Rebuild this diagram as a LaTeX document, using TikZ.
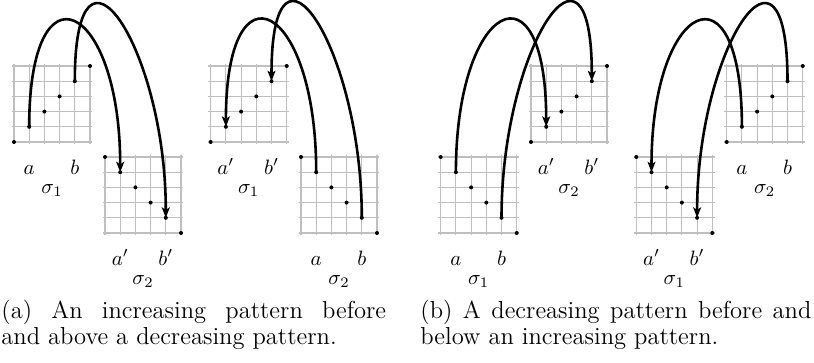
\documentclass[tikz,border=0pt]{standalone}
\usetikzlibrary{arrows.meta}
\tikzset{
  gridline/.style={gray!50, line width=0.5pt},
  permarc/.style={line width=1.25pt, -{Stealth[length=5pt, width=3.8pt, inset=1.2pt]}},
  lab/.style={anchor=base, inner sep=0pt},
  capt/.style={anchor=base west, inner sep=0pt},
}
\newcommand{\permgrid}[4]{%
  \begin{scope}[shift={(#2,#3)}]
    \foreach \k in {0,...,5} {
      \draw[gridline] (\k*15.2, 2.4) -- (\k*15.2, -78.4);
      \draw[gridline] (-2.4, -\k*15.2) -- (78.4, -\k*15.2);
    }
    \foreach \k in {0,...,5} {
      \ifnum#4=1 \coordinate (#1-\k) at (\k*15.2, -\k*15.2);
      \else \coordinate (#1-\k) at (\k*15.2, -76+\k*15.2); \fi
      \fill (#1-\k) circle (2);
    }
  \end{scope}}
\newcommand{\gridlabels}[6]{%
  \node[lab] (#1-la) at (#2+15.2, #3+32) {$#4$};
  \node[lab] (#1-lb) at (#2+60.8, #3+32) {$#5$};
  \node[lab] (#1-ls) at (#2+38, #3+51.5) {$#6$};}
\begin{document}
\begin{tikzpicture}[x=0.4808pt, y=-0.4808pt]
\useasboundingbox (0,0) rectangle (814,362);
% panel (a)
\permgrid{A1}{14}{142}{1}
\permgrid{A2}{105}{233}{0}
\permgrid{A3}{210.7}{142}{1}
\permgrid{A4}{301}{233}{0}
% panel (b)
\permgrid{B1}{440.7}{233}{0}
\permgrid{B2}{531}{142}{1}
\permgrid{B3}{636.3}{233}{0}
\permgrid{B4}{726.7}{142}{1}
% labels
\gridlabels{A1}{14}{142}{a}{b}{\sigma_1}
\gridlabels{A2}{105}{233}{a'}{b'}{\sigma_2}
\gridlabels{A3}{210.7}{142}{a'}{b'}{\sigma_1}
\gridlabels{A4}{301}{233}{a}{b}{\sigma_2}
\gridlabels{B1}{440.7}{233}{a}{b}{\sigma_1}
\gridlabels{B2}{531}{142}{a'}{b'}{\sigma_2}
\gridlabels{B3}{636.3}{233}{a'}{b'}{\sigma_1}
\gridlabels{B4}{726.7}{142}{a}{b}{\sigma_2}
% arcs
\draw[permarc] (A1-1) .. controls +(0,-170) and +(0,-170) .. (A2-1);
\draw[permarc] (A1-4) .. controls +(0,-170) and +(0,-170) .. (A2-4);
\draw[permarc] (A4-1) .. controls +(0,-170) and +(0,-170) .. (A3-1);
\draw[permarc] (A4-4) .. controls +(0,-170) and +(0,-170) .. (A3-4);
\draw[permarc] (B1-1) .. controls +(0,-170) and +(0,-170) .. (B2-1);
\draw[permarc] (B1-4) .. controls +(0,-170) and +(0,-170) .. (B2-4);
\draw[permarc] (B4-1) .. controls +(0,-170) and +(0,-170) .. (B3-1);
\draw[permarc] (B4-4) .. controls +(0,-170) and +(0,-170) .. (B3-4);
% captions
\node[capt] (capa) at (1,318) {\parbox[t]{185pt}{\fontsize{11.8}{12.6}\selectfont (a) An increasing pattern before\linebreak and above a decreasing pattern.}};
\node[capt] (capb) at (420,318) {\parbox[t]{188pt}{\fontsize{11.8}{12.6}\selectfont (b) A decreasing pattern before and\linebreak below an increasing pattern.}};
\end{tikzpicture}
\end{document}
